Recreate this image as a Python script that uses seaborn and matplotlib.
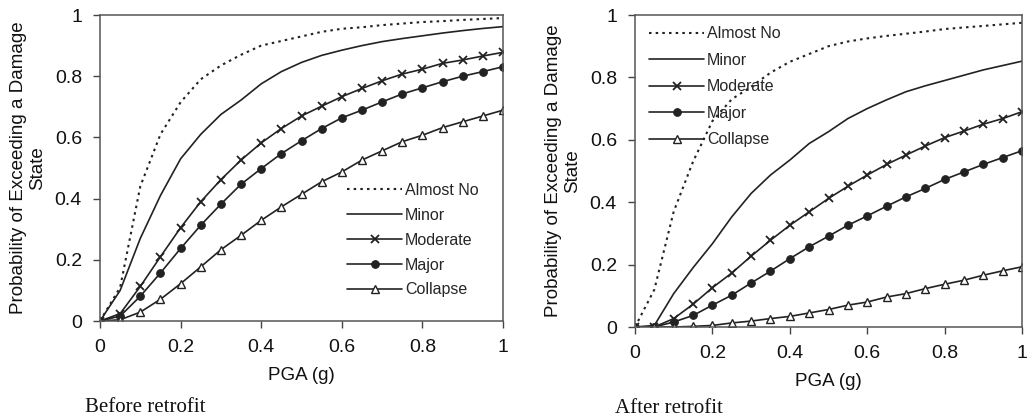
import numpy as np
import pandas as pd
import matplotlib
matplotlib.use("Agg")
import matplotlib.pyplot as plt
import seaborn as sns

pga = [0, 0.05, 0.1, 0.15, 0.2, 0.25, 0.3, 0.35, 0.4, 0.45, 0.5,
       0.55, 0.6, 0.65, 0.7, 0.75, 0.8, 0.85, 0.9, 0.95, 1.0]

states = ["Almost No", "Minor", "Moderate", "Major", "Collapse"]

before_almost_no = [0, 0.11, 0.44, 0.61, 0.715, 0.79, 0.835, 0.87, 0.90, 0.915, 0.93,
                    0.945, 0.955, 0.96, 0.967, 0.972, 0.977, 0.98, 0.984, 0.987, 0.99]
before_minor = [0, 0.10, 0.27, 0.41, 0.53, 0.61, 0.675, 0.722, 0.775, 0.815, 0.845,
                0.868, 0.885, 0.90, 0.913, 0.923, 0.932, 0.941, 0.949, 0.956, 0.962]
before_moderate = [0, 0.024, 0.113, 0.21, 0.305, 0.39, 0.462, 0.526, 0.582, 0.629, 0.67,
                   0.702, 0.733, 0.76, 0.785, 0.807, 0.823, 0.842, 0.853, 0.866, 0.878]
before_major = [0, 0.016, 0.081, 0.157, 0.237, 0.313, 0.382, 0.447, 0.498, 0.547, 0.589,
                0.629, 0.664, 0.689, 0.716, 0.742, 0.762, 0.782, 0.80, 0.815, 0.831]
before_collapse = [0, 0.004, 0.029, 0.071, 0.122, 0.177, 0.233, 0.28, 0.329, 0.373, 0.414,
                   0.455, 0.487, 0.526, 0.556, 0.586, 0.607, 0.632, 0.651, 0.67, 0.689]

after_almost_no = [0, 0.12, 0.37, 0.53, 0.66, 0.73, 0.77, 0.815, 0.85, 0.875, 0.90,
                   0.915, 0.925, 0.933, 0.94, 0.947, 0.955, 0.96, 0.965, 0.97, 0.975]
after_minor = [0, 0.005, 0.107, 0.19, 0.267, 0.353, 0.428, 0.487, 0.535, 0.588, 0.626,
               0.668, 0.70, 0.728, 0.754, 0.773, 0.79, 0.807, 0.824, 0.838, 0.852]
after_moderate = [0, 0.0, 0.027, 0.073, 0.126, 0.173, 0.227, 0.278, 0.326, 0.369, 0.412,
                  0.451, 0.487, 0.521, 0.551, 0.58, 0.607, 0.628, 0.65, 0.668, 0.69]
after_major = [0, 0.0, 0.016, 0.037, 0.07, 0.102, 0.141, 0.179, 0.219, 0.257, 0.291,
               0.326, 0.356, 0.387, 0.417, 0.444, 0.473, 0.497, 0.521, 0.543, 0.565]
after_collapse = [0, 0.0, 0.0, 0.002, 0.005, 0.013, 0.019, 0.027, 0.034, 0.045, 0.056,
                  0.07, 0.08, 0.096, 0.107, 0.123, 0.137, 0.15, 0.166, 0.18, 0.193]

x_ticks = [0, 0.2, 0.4, 0.6, 0.8, 1]
x_ticklabels = ["0", "0.2", "0.4", "0.6", "0.8", "1"]
y_ticks = [0, 0.2, 0.4, 0.6, 0.8, 1]
y_ticklabels = ["0", "0.2", "0.4", "0.6", "0.8", "1"]
captions = ["Before retrofit", "After retrofit"]

sns.set_style("ticks")
plt.rcParams["font.family"] = ["Liberation Sans", "DejaVu Sans"]

ink = "#222222"
styles = {
    "Almost No": dict(linestyle=(0, (1.2, 2.0)), marker=None),
    "Minor": dict(linestyle="-", marker=None),
    "Moderate": dict(linestyle="-", marker="x", markersize=6, markeredgewidth=1.3),
    "Major": dict(linestyle="-", marker="o", markersize=5.5, markerfacecolor=ink),
    "Collapse": dict(linestyle="-", marker="^", markersize=6, markerfacecolor="white",
                     markeredgewidth=1.0),
}

fig = plt.figure(figsize=(10.30, 4.19), dpi=100)
ax1 = fig.add_axes([100 / 1030, 1 - 321 / 419, 403 / 1030, 306 / 419])
ax2 = fig.add_axes([635 / 1030, 1 - 327 / 419, 387 / 1030, 312 / 419])

datasets = [
    [before_almost_no, before_minor, before_moderate, before_major, before_collapse],
    [after_almost_no, after_minor, after_moderate, after_major, after_collapse],
]

for ax, data in zip([ax1, ax2], datasets):
    for name, vals in zip(states, data):
        st = dict(styles[name])
        lw = 1.5 if name == "Almost No" else 1.2
        sns.lineplot(x=pga, y=vals, ax=ax, color=ink, linewidth=lw, label=name,
                     markeredgecolor=ink, **st)
    ax.set_xlim(0, 1)
    ax.set_ylim(0, 1)
    ax.set_xticks(x_ticks)
    ax.set_xticklabels(x_ticklabels)
    ax.set_yticks(y_ticks)
    ax.set_yticklabels(y_ticklabels)
    ax.tick_params(axis="both", labelsize=14, length=5, width=1.0, colors="#444444",
                   labelcolor="#111111", pad=8)
    for sp in ax.spines.values():
        sp.set_visible(True)
        sp.set_color("#555555")
        sp.set_linewidth(1.1)
    ax.set_xlabel("PGA (g)", fontsize=13.5, color="#111111", labelpad=8)
    ax.set_ylabel("Probability of Exceeding a Damage\nState", fontsize=13.5,
                  color="#111111", labelpad=6)

ax1.legend(loc="lower right", bbox_to_anchor=(0.975, 0.03), frameon=False, fontsize=11.5,
           handlelength=3.4, handletextpad=0.2, labelspacing=0.62)
ax2.legend(loc="upper left", bbox_to_anchor=(0.0, 1.01), frameon=False, fontsize=11.5,
           handlelength=3.4, handletextpad=0.2, labelspacing=0.72)

fig.text(145 / 1030, 1 - 407 / 419, captions[0], family="Liberation Serif",
         fontsize=15, ha="center", va="center", color="#111111")
fig.text(669 / 1030, 1 - 408 / 419, captions[1], family="Liberation Serif",
         fontsize=15, ha="center", va="center", color="#111111")

fig.savefig("out.png", dpi=100)
